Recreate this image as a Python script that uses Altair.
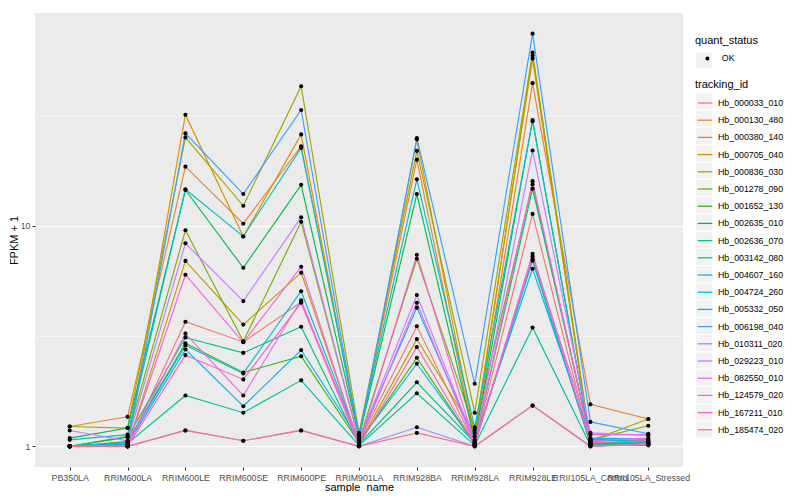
import altair as alt
import pandas as pd

samples = ["PB350LA", "RRIM600LA", "RRIM600LE", "RRIM600SE", "RRIM600PE", "RRIM901LA",
           "RRIM928BA", "RRIM928LA", "RRIM928LE", "RRII105LA_Control", "RRII105LA_Stressed"]

tracking_ids = ["Hb_000033_010", "Hb_000130_480", "Hb_000380_140", "Hb_000705_040", "Hb_000836_030",
                "Hb_001278_090", "Hb_001652_130", "Hb_002635_010", "Hb_002636_070", "Hb_003142_080",
                "Hb_004607_160", "Hb_004724_260", "Hb_005332_050", "Hb_006198_040", "Hb_010311_020",
                "Hb_029223_010", "Hb_082550_010", "Hb_124579_020", "Hb_167211_010", "Hb_185474_020"]

colors = ["#F8766D", "#EA8331", "#D89000", "#C09B00", "#A3A500", "#7CAE00", "#39B600", "#00BB4E",
          "#00BF7D", "#00C1A3", "#00BFC4", "#00BAE0", "#00B0F6", "#35A2FF", "#9590FF", "#C77CFF",
          "#E76BF3", "#FA62DB", "#FF62BC", "#FF6C91"]

# FPKM + 1 per sample (same order as samples)
hb_000033_010 = [1.00, 1.00, 3.67, 2.97, 4.50, 1.05, 3.50, 1.02, 11.3, 1.03, 1.02]
hb_000130_480 = [1.23, 1.36, 18.5, 10.2, 22.9, 1.12, 19.9, 1.05, 44.2, 1.55, 1.33]
hb_000380_140 = [1.00, 1.02, 31.8, 8.93, 25.9, 1.08, 24.6, 1.11, 59.0, 1.02, 1.03]
hb_000705_040 = [1.00, 1.00, 6.92, 3.56, 6.12, 1.03, 3.06, 1.15, 57.1, 1.04, 1.04]
hb_000836_030 = [1.23, 1.21, 25.1, 12.3, 42.8, 1.15, 21.8, 1.42, 60.8, 1.06, 1.33]
hb_001278_090 = [1.00, 1.11, 9.53, 2.99, 10.4, 1.06, 7.08, 1.19, 15.4, 1.07, 1.24]
hb_001652_130 = [1.00, 1.05, 2.93, 2.16, 2.56, 1.04, 2.52, 1.02, 7.06, 1.02, 1.01]
hb_002635_010 = [1.09, 1.21, 14.5, 6.44, 15.3, 1.10, 13.9, 1.06, 30.1, 1.05, 1.02]
hb_002636_070 = [1.00, 1.10, 3.11, 2.65, 3.48, 1.02, 1.95, 1.04, 14.7, 1.08, 1.05]
hb_003142_080 = [1.00, 1.03, 1.70, 1.42, 1.99, 1.01, 1.74, 1.01, 3.45, 1.01, 1.06]
hb_004607_160 = [1.07, 1.13, 14.6, 8.93, 22.5, 1.13, 16.2, 1.22, 29.7, 1.06, 1.07]
hb_004724_260 = [1.00, 1.04, 2.87, 2.14, 5.04, 1.05, 2.37, 1.03, 6.94, 1.03, 1.04]
hb_005332_050 = [1.00, 1.02, 2.75, 1.52, 2.73, 1.07, 4.25, 1.07, 6.38, 1.09, 1.08]
hb_006198_040 = [1.00, 1.00, 26.2, 13.9, 33.4, 1.09, 24.9, 1.92, 74.1, 1.29, 1.14]
hb_010311_020 = [1.00, 1.00, 1.18, 1.06, 1.18, 1.00, 1.22, 1.00, 1.53, 1.00, 1.03]
hb_029223_010 = [1.18, 1.06, 8.32, 4.55, 10.9, 1.06, 4.85, 1.04, 21.9, 1.15, 1.12]
hb_082550_010 = [1.00, 1.01, 3.24, 1.70, 4.59, 1.03, 4.47, 1.02, 7.26, 1.13, 1.13]
hb_124579_020 = [1.00, 1.00, 5.99, 2.96, 6.51, 1.02, 7.38, 1.03, 15.9, 1.06, 1.09]
hb_167211_010 = [1.00, 1.00, 2.59, 2.01, 4.47, 1.01, 2.82, 1.02, 7.46, 1.04, 1.06]
hb_185474_020 = [1.00, 1.00, 1.18, 1.06, 1.18, 1.00, 1.15, 1.00, 1.53, 1.00, 1.02]

series = [hb_000033_010, hb_000130_480, hb_000380_140, hb_000705_040, hb_000836_030,
          hb_001278_090, hb_001652_130, hb_002635_010, hb_002636_070, hb_003142_080,
          hb_004607_160, hb_004724_260, hb_005332_050, hb_006198_040, hb_010311_020,
          hb_029223_010, hb_082550_010, hb_124579_020, hb_167211_010, hb_185474_020]

rows = []
for tid, vals in zip(tracking_ids, series):
    for s, v in zip(samples, vals):
        rows.append({"sample_name": s, "tracking_id": tid, "fpkm": v, "quant_status": "OK"})
df = pd.DataFrame(rows)

KEY_BG = "#F2F2F2"
major = "datum.value == 1 || datum.value == 10"

x = alt.X("sample_name:N", sort=samples, title="sample_name",
          scale=alt.Scale(type="point", padding=0.6),
          axis=alt.Axis(labelAngle=0, labelOverlap=False, labelBound=False, labelFlush=False,
                        labelColor="#4D4D4D", labelFontSize=8.8, labelPadding=3,
                        tickColor="#333333", tickSize=3, domain=False,
                        gridColor="white", gridWidth=1.1,
                        titleFontSize=11, titleFontWeight="normal", titleColor="black",
                        titlePadding=0))
y = alt.Y("fpkm:Q", title="FPKM + 1",
          scale=alt.Scale(type="log", domain=[0.806, 91.9], nice=False, zero=False),
          axis=alt.Axis(values=[1, 3.16228, 10, 31.6228],
                        labelExpr="datum.value == 1 ? '1' : (datum.value == 10 ? '10' : '')",
                        labelColor="#4D4D4D", labelFontSize=8.8, labelPadding=2,
                        tickColor="#333333", tickSize=3, domain=False,
                        tickOpacity={"condition": {"test": major, "value": 1}, "value": 0},
                        gridColor="white",
                        gridWidth={"condition": {"test": major, "value": 1.1}, "value": 0.5},
                        titleFontSize=11, titleFontWeight="normal", titleColor="black",
                        titlePadding=1))

# grey key backgrounds (ggplot legend.key), drawn as label-less legends behind the real ones
key_bg_ids = alt.Chart(df).mark_point(filled=True, opacity=0).encode(
    x=x, y=y,
    fill=alt.Fill("tracking_id:N", scale=alt.Scale(domain=tracking_ids, range=[KEY_BG] * len(tracking_ids)),
                  legend=alt.Legend(orient="none", legendX=660, legendY=64.5, zindex=0, title=" ",
                                    symbolType="square", symbolSize=256, symbolStrokeWidth=0,
                                    symbolOpacity=1, symbolOffset=1, rowPadding=1.27,
                                    labelExpr="''", labelFontSize=8.8,
                                    titleFontSize=11, titlePadding=5, padding=0)),
)
key_bg_status = alt.Chart(df).mark_point(filled=True, opacity=0).encode(
    x=x, y=y,
    fill=alt.Fill("quant_status:N", scale=alt.Scale(range=[KEY_BG]),
                  legend=alt.Legend(orient="none", legendX=660, legendY=20.5, zindex=0, title=" ",
                                    symbolType="square", symbolSize=256, symbolStrokeWidth=0,
                                    symbolOpacity=1, symbolOffset=1,
                                    labelExpr="''", labelFontSize=8.8,
                                    titleFontSize=11, titlePadding=8, padding=0)),
)

lines = alt.Chart(df).mark_line(strokeWidth=1.15).encode(
    x=x, y=y,
    color=alt.Color("tracking_id:N", scale=alt.Scale(domain=tracking_ids, range=colors),
                    legend=alt.Legend(orient="none", legendX=660, legendY=66, zindex=1,
                                      symbolType="stroke", symbolSize=216, symbolStrokeWidth=1.3,
                                      symbolOffset=2, labelOffset=5, rowPadding=4.2,
                                      labelFontSize=8.8, labelColor="black",
                                      titleFontSize=11, titleFontWeight="normal", titleColor="black",
                                      titlePadding=5, padding=0)),
    detail="tracking_id:N",
)

points = alt.Chart(df).mark_point(filled=True, color="black", size=17, opacity=1).encode(
    x=x, y=y,
    shape=alt.Shape("quant_status:N", scale=alt.Scale(range=["circle"]),
                    legend=alt.Legend(orient="none", legendX=660, legendY=22, zindex=1,
                                      symbolSize=16, symbolOffset=8, labelOffset=10,
                                      symbolFillColor="black", symbolStrokeColor="black",
                                      labelFontSize=8.8, labelColor="black",
                                      titleFontSize=11, titleFontWeight="normal", titleColor="black",
                                      titlePadding=8, padding=0)),
)

chart = alt.layer(key_bg_ids, key_bg_status, lines, points).resolve_scale(
    color="independent", shape="independent", fill="independent"
).properties(
    width=648, height=454,
    autosize=alt.AutoSizeParams(type="none"),
    padding={"left": 27, "top": 5, "right": 109, "bottom": 25},
).configure(
    font="Liberation Sans",
    view=alt.ViewConfig(fill="#EBEBEB", strokeWidth=0),
)

chart.save("out.html", embed_options={"renderer": "svg", "actions": False})
